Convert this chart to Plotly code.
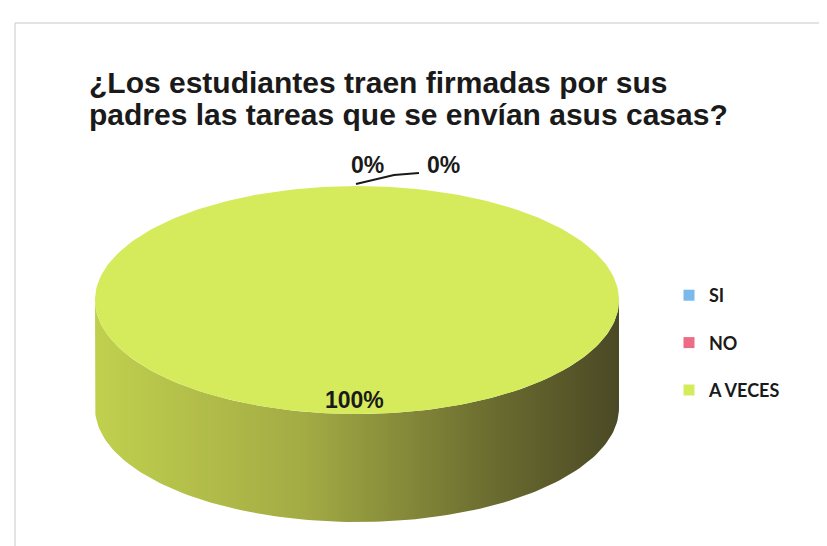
import numpy as np
import plotly.graph_objects as go

title_lines = ["¿Los estudiantes traen firmadas por sus",
               "padres las tareas que se envían asus casas?"]
categories = ["SI", "NO", "A VECES"]
percent = [0, 0, 100]

face_colors = ["#7bb8ec", "#ec6c84", "#d5eb5c"]
side_scales = [
    [[0, "#5f93c4"], [1, "#2f4f70"]],
    [[0, "#c95468"], [1, "#6e2a35"]],
    [[0, "#c0d04e"], [0.4, "#a3ab44"], [0.75, "#6c6d30"], [1, "#4a4925"]],
]

# pseudo 3d pie geometry (pixel-like axes)
cx, cy, rx, ry, depth = 349, 292, 262, 114, 108


def pt(phi, dy=0.0):
    # phi measured clockwise from 12 o'clock, in degrees
    r = np.radians(phi)
    return cx + rx * np.sin(r), cy - ry * np.cos(r) + dy


fig = go.Figure()

total = sum(percent)
start = 0.0
slices = []
for cat, v in zip(categories, percent):
    end = start + 360.0 * v / total
    slices.append((start, end))
    start = end

# side walls first (only the front half is visible)
for i, (a0, a1) in enumerate(slices):
    a, b = max(a0, 90), min(a1, 270)
    if b <= a:
        continue
    phis = np.linspace(a, b, 120)
    xt, yt = pt(phis)
    xb, yb = pt(phis[::-1], depth)
    fig.add_trace(go.Scatter(
        x=np.concatenate([xt, xb]), y=np.concatenate([yt, yb]),
        fill="toself", mode="lines", line=dict(width=0),
        fillgradient=dict(type="horizontal", colorscale=side_scales[i]),
        showlegend=False, hoverinfo="skip"))

# top faces
for i, (a0, a1) in enumerate(slices):
    if a1 <= a0:
        continue
    phis = np.linspace(a0, a1, 240)
    xs, ys = pt(phis)
    if a1 - a0 < 360:
        xs = np.concatenate([[cx], xs, [cx]])
        ys = np.concatenate([[cy], ys, [cy]])
    fig.add_trace(go.Scatter(
        x=xs, y=ys, fill="toself", mode="lines", line=dict(width=0),
        fillcolor=face_colors[i], showlegend=False, hoverinfo="skip"))

# legend entries
for i, cat in enumerate(categories):
    fig.add_trace(go.Scatter(
        x=[None], y=[None], mode="markers", name=cat, legendgroup=cat,
        marker=dict(symbol="square", size=11, color=face_colors[i])))

lab_font = dict(family="Liberation Sans", size=23, color="#1a1a1a", weight="bold")

# data labels
for i, (a0, a1) in enumerate(slices):
    if a1 > a0:
        lx, ly = pt((a0 + a1) / 2)
        lx = cx + (lx - cx) * 0.88
        ly = cy + (ly - cy) * 0.88
        fig.add_annotation(x=lx - 3, y=ly, text=f"{percent[i]}%", showarrow=False,
                           font=lab_font)
zero_pos = [(359, 157), (435, 157)]
zi = 0
for i, (a0, a1) in enumerate(slices):
    if a1 <= a0 and zi < len(zero_pos):
        fig.add_annotation(x=zero_pos[zi][0], y=zero_pos[zi][1],
                           text=f"{percent[i]}%", showarrow=False, font=lab_font)
        zi += 1
fig.add_shape(type="path", path="M 348 176 L 386 167 L 411 165",
              line=dict(color="#1a1a1a", width=2))

# title, two lines
for line, yy in zip(title_lines, [74, 106]):
    fig.add_annotation(x=79, y=yy, text=line, showarrow=False,
                       xanchor="left", yanchor="middle",
                       font=dict(family="Liberation Sans", size=30,
                                 color="#1a1a1a", weight="bold"))

# chart frame
fig.add_shape(type="rect", x0=7, y0=15, x1=840, y1=560,
              line=dict(color="#c8c8c8", width=1))

fig.update_layout(
    width=827, height=546,
    margin=dict(l=0, r=0, t=0, b=0),
    paper_bgcolor="white", plot_bgcolor="white",
    xaxis=dict(range=[0, 827], visible=False, fixedrange=True),
    yaxis=dict(range=[546, 0], visible=False, fixedrange=True),
    legend=dict(x=661 / 827, y=1 - 269 / 546, xanchor="left", yanchor="top",
                font=dict(family="Lato", size=18, color="#1a1a1a", weight="bold"),
                tracegroupgap=21, itemwidth=30, bgcolor="rgba(0,0,0,0)"),
)

fig.write_html("out.html")
